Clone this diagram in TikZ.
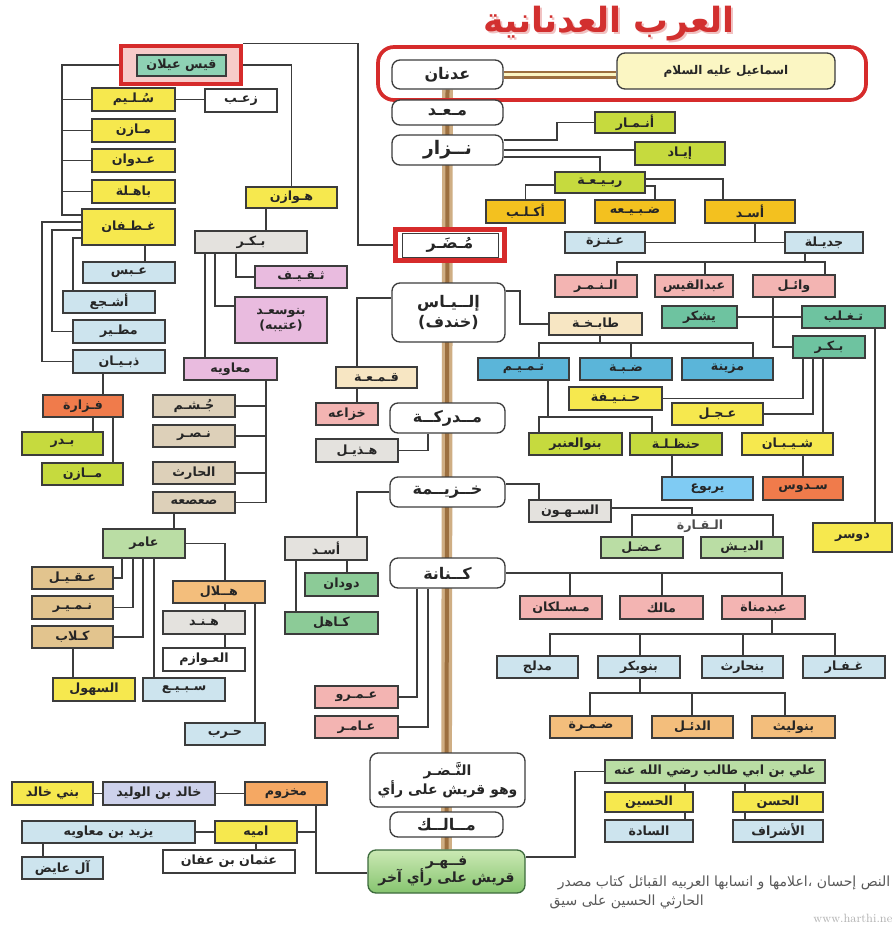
\documentclass[tikz,border=0pt]{standalone}
\usepackage{fontspec}
\newfontfamily\arabicfont[Script=Arabic]{DejaVu Sans}
\TeXXeTstate=1
\newcommand\AR[1]{\beginR #1\endR}
\pgfdeclarelayer{back}
\pgfdeclarelayer{bg}
\pgfsetlayers{back,bg,main}
\definecolor{yel}{HTML}{F6E84E}
\definecolor{lime}{HTML}{C6DA3E}
\definecolor{gold}{HTML}{F3C11F}
\definecolor{lblue}{HTML}{CDE4EE}
\definecolor{pinkr}{HTML}{F3B4B2}
\definecolor{teal}{HTML}{6EC3A0}
\definecolor{sky}{HTML}{5BB5D9}
\definecolor{yblue}{HTML}{7FCBF3}
\definecolor{orred}{HTML}{F07B4B}
\definecolor{beige}{HTML}{F7E6C3}
\definecolor{lgray}{HTML}{E4E2DE}
\definecolor{mauve}{HTML}{E9BBDF}
\definecolor{tan}{HTML}{DDD0B9}
\definecolor{lgreen}{HTML}{BADDA4}
\definecolor{mgreen}{HTML}{8CCB97}
\definecolor{peach}{HTML}{F5A863}
\definecolor{lav}{HTML}{CDD1EB}
\definecolor{cream}{HTML}{FBF6C3}
\definecolor{qgreen}{HTML}{8ED2B4}
\definecolor{ochre}{HTML}{E2C48E}
\definecolor{orange}{HTML}{F3BE7C}
\definecolor{linec}{HTML}{3C3C3C}
\definecolor{redc}{HTML}{D62B2B}
\definecolor{titlered}{HTML}{D2302F}
\definecolor{trunko}{HTML}{CFAE84}
\definecolor{trunki}{HTML}{9C6F3F}
\definecolor{fgreen1}{HTML}{CBE9B4}
\definecolor{fgreen2}{HTML}{86C46F}
\definecolor{fgreenb}{HTML}{3D6B3D}
\tikzset{
  bxs/.style={draw=linec, line width=1pt, inner sep=0pt, align=center,
    font=\arabicfont\bfseries\fontsize{9.5}{11}\selectfont, text=black!85},
  rbxs/.style={bxs, rounded corners=6pt, fill=white,
    font=\arabicfont\bfseries\fontsize{12}{15}\selectfont},
  ln/.style={draw=linec, line width=0.9pt},
  redframe/.style={draw=redc, line width=3.6pt},
  srcfont/.style={font=\arabicfont\fontsize{10.5}{12}\selectfont, text=black!65}
}
% box whose text is already wrapped in \beginR ... \endR
\newcommand\bxr[7]{\node[bxs,fill=#6,minimum width={((#4)-(#2))*0.75pt},minimum height={((#5)-(#3))*0.75pt}] (#1) at ({((#2)+(#4))/2},{((#3)+(#5))/2}) {#7};}
\newcommand\bx[7]{\bxr{#1}{#2}{#3}{#4}{#5}{#6}{\AR{#7}}}
\newcommand\rbx[7]{\node[rbxs,#6,minimum width={((#4)-(#2))*0.75pt},minimum height={((#5)-(#3))*0.75pt}] (#1) at ({((#2)+(#4))/2},{((#3)+(#5))/2}) {#7};}
\begin{document}
\begin{tikzpicture}[x=0.75pt,y=-0.75pt]
\useasboundingbox (0,0) rectangle (893,929);
\begin{pgfonlayer}{back}
\fill[white] (0,0) rectangle (893,929);
\end{pgfonlayer}
% title
\node[font=\arabicfont\bfseries\fontsize{26}{30}\selectfont, text=titlered!30] (titleshadow) at (611,26) {\beginR العرب العدنانية\endR};
\node[font=\arabicfont\bfseries\fontsize{26}{30}\selectfont, text=titlered] (title) at (609,24) {\beginR العرب العدنانية\endR};
% top frame
\node[redframe, line width=2.8pt, rounded corners=12pt, minimum width={488*0.75pt}, minimum height={53*0.75pt}] (topframe) at (622,73.5) {};
% central column
\rbx{adnan}{392}{60}{503}{89}{}{\AR{عدنان}}
\rbx{ismail}{617}{53}{835}{89}{fill=cream,font=\arabicfont\bfseries\fontsize{9}{11}\selectfont}{\beginR اسماعيل عليه السلام\endR}
\rbx{maad}{392}{100}{503}{125}{}{\AR{مـعـد}}
\rbx{nizar}{392}{135}{503}{165}{font=\arabicfont\bfseries\fontsize{14}{16}\selectfont}{\AR{نــزار}}
\node[redframe, fill=white, minimum width={109*0.75pt}, minimum height={31*0.75pt}] (mudarF) at (450,245) {};
\node[bxs, fill=white, line width=0.6pt, minimum width={96*0.75pt}, minimum height={24*0.75pt}, font=\arabicfont\bfseries\fontsize{12}{14}\selectfont] (mudar) at (450,245) {\AR{مُـضَـر}};
\rbx{ilyas}{392}{283}{505}{342}{}{\AR{إلــيـاس}\\\AR{(خندف)}}
\rbx{mudrika}{390}{403}{505}{433}{}{\AR{مــدركــة}}
\rbx{khuzayma}{390}{477}{505}{507}{}{\AR{خــزيــمة}}
\rbx{kinana}{390}{558}{505}{588}{}{\AR{كــنانة}}
\rbx{nadr}{370}{753}{525}{807}{font=\arabicfont\bfseries\fontsize{10.5}{14}\selectfont}{\AR{النَّـضـر}\\\beginR وهو قريش على رأي\endR}
\rbx{malik}{390}{812}{503}{837}{}{\AR{مــالــك}}
\rbx{fihr}{368}{850}{525}{893}{draw=fgreenb,top color=fgreen1,bottom color=fgreen2,font=\arabicfont\bfseries\fontsize{10.5}{13}\selectfont}{\AR{فــهـر}\\\beginR قريش على رأي آخر\endR}
% qays
\node[redframe, fill=pinkr!70, minimum width={120*0.75pt}, minimum height={38*0.75pt}] (qaysF) at (181,65) {};
\bxr{qays}{137}{55}{226}{76}{qgreen}{\beginR قيس عيلان\endR}
% left upper
\bx{sulaym}{92}{88}{175}{111}{yel}{سُـلـيم}
\bx{mazin}{92}{119}{175}{142}{yel}{مـازن}
\bx{adwan}{92}{149}{175}{172}{yel}{عـدوان}
\bx{bahila}{92}{180}{175}{203}{yel}{باهـلة}
\bx{ghatafan}{82}{209}{175}{245}{yel}{غـطـفان}
\bx{zaab}{205}{89}{277}{112}{white}{زعـب}
\bx{hawazin}{246}{187}{337}{208}{yel}{هـوازن}
\bx{abs}{83}{262}{175}{283}{lblue}{عـبس}
\bx{ashja}{63}{291}{155}{313}{lblue}{أشـجع}
\bx{mutayr}{73}{320}{165}{343}{lblue}{مطـير}
\bx{dhubyan}{73}{350}{165}{373}{lblue}{ذبـيـان}
\bx{fazara}{43}{395}{123}{417}{orred}{فـزارة}
\bx{badr}{22}{432}{103}{455}{lime}{بـدر}
\bx{mazin2}{42}{463}{123}{485}{lime}{مــازن}
\bx{bakr}{195}{231}{307}{253}{lgray}{بـكـر}
\bx{thaqif}{255}{266}{347}{288}{mauve}{ثـقـيـف}
\node[bxs, fill=mauve, minimum width={92*0.75pt}, minimum height={46*0.75pt}] (banusaad) at (281,320) {\AR{بنوسعـد}\\\AR{(عتيبه)}};
\bx{muawiya}{184}{358}{277}{380}{mauve}{معاويه}
\bx{jusham}{153}{395}{235}{417}{tan}{جُـشـم}
\bx{nasr}{153}{425}{235}{447}{tan}{نـصـر}
\bx{harith}{153}{462}{235}{484}{tan}{الحارث}
\bx{sasaa}{153}{492}{235}{513}{tan}{صعصعه}
\bx{amir}{103}{529}{185}{558}{lgreen}{عامر}
\bx{aqil}{32}{567}{113}{589}{ochre}{عـقـيـل}
\bx{numayr}{32}{596}{113}{619}{ochre}{نـمـيـر}
\bx{kilab}{32}{626}{113}{648}{ochre}{كـلاب}
\bx{suhul}{53}{678}{135}{701}{yel}{السهول}
\bx{subay}{143}{678}{225}{701}{lblue}{سـبـيـع}
\bx{hilal}{173}{581}{265}{603}{orange}{هــلال}
\bx{hind}{163}{611}{245}{634}{lgray}{هـنـد}
\bx{awazim}{163}{648}{245}{671}{white}{العـوازم}
\bx{harb}{185}{723}{265}{745}{lblue}{حـرب}
% center left
\bx{qamaa}{336}{367}{417}{388}{beige}{قـمـعـة}
\bx{khuzaa}{316}{403}{378}{425}{pinkr}{خزاعه}
\bx{hudhayl}{316}{439}{398}{462}{lgray}{هـذيـل}
\bx{asadL}{285}{537}{367}{560}{lgray}{أسـد}
\bx{dudan}{305}{573}{378}{596}{mgreen}{دودان}
\bx{kahil}{285}{612}{378}{634}{mgreen}{كـاهل}
\bx{amr}{315}{686}{398}{708}{pinkr}{عـمـرو}
\bx{amir2}{315}{716}{398}{738}{pinkr}{عـامـر}
% bottom left
\bx{makhzum}{245}{782}{327}{805}{peach}{مخزوم}
\bxr{khalid}{103}{782}{215}{805}{lav}{\beginR خالد بن الوليد\endR}
\bxr{banikhalid}{12}{782}{93}{805}{yel}{\beginR بني خالد\endR}
\bx{umayya}{215}{821}{297}{843}{yel}{اميه}
\bxr{yazid}{22}{821}{195}{843}{lblue}{\beginR يزيد بن معاويه\endR}
\bxr{uthman}{163}{850}{295}{873}{white}{\beginR عثمان بن عفان\endR}
\bxr{aliad}{22}{857}{103}{879}{lblue}{\beginR آل عايض\endR}
% right
\bx{anmar}{595}{112}{675}{133}{lime}{أنـمـار}
\bx{iyad}{635}{142}{725}{165}{lime}{إيـاد}
\bx{rabia}{555}{172}{645}{193}{lime}{ربـيـعـة}
\bx{akalb}{486}{200}{565}{223}{gold}{أكـلـب}
\bx{dubayaa}{595}{200}{675}{223}{gold}{ضـبـيـعه}
\bx{asadR}{705}{200}{795}{223}{gold}{أسـد}
\bx{anaza}{565}{232}{645}{253}{lblue}{عـنـزة}
\bx{jadila}{785}{232}{863}{253}{lblue}{جديـلة}
\bx{namir}{555}{275}{637}{297}{pinkr}{الـنـمـر}
\bx{abdqays}{655}{275}{733}{297}{pinkr}{عبدالقيس}
\bx{wail}{753}{275}{835}{297}{pinkr}{وائـل}
\bx{yashkur}{662}{306}{737}{328}{teal}{يشكر}
\bx{taghlib}{802}{306}{885}{328}{teal}{تـغـلب}
\bx{bakrR}{793}{336}{865}{358}{teal}{بـكـر}
\bx{tabikha}{549}{313}{642}{335}{beige}{طابـخـة}
\bx{tamim}{478}{358}{569}{380}{sky}{تـمـيـم}
\bx{dabba}{580}{358}{672}{380}{sky}{ضـبـة}
\bx{muzayna}{682}{358}{773}{380}{sky}{مزينة}
\bx{hanifa}{569}{387}{662}{410}{yel}{حـنـيـفة}
\bx{ijl}{672}{403}{763}{425}{yel}{عـجـل}
\bx{anbar}{529}{433}{622}{455}{lime}{بنوالعنبر}
\bx{hanzala}{630}{433}{722}{455}{lime}{حنظـلـة}
\bx{shayban}{742}{433}{833}{455}{yel}{شـيـبـان}
\bx{yarbu}{662}{477}{753}{500}{yblue}{يربوع}
\bx{sadus}{763}{477}{843}{500}{orred}{سـدوس}
\bx{dawsar}{813}{523}{892}{552}{yel}{دوسر}
\bx{suhun}{529}{500}{611}{522}{lgray}{السـهـون}
\node[font=\arabicfont\bfseries\fontsize{9.5}{11}\selectfont, text=black!70] (qara) at (700,526) {\AR{الـقـارة}};
\bx{adal}{601}{537}{683}{558}{lgreen}{عـضـل}
\bx{daysh}{701}{537}{783}{558}{lgreen}{الديـش}
\bx{maslakan}{520}{596}{602}{619}{pinkr}{مـسـلكان}
\bx{malikK}{620}{596}{703}{619}{pinkr}{مالك}
\bx{abdmanat}{722}{596}{805}{619}{pinkr}{عبدمناة}
\bx{mudlij}{497}{656}{578}{678}{lblue}{مدلج}
\bx{banubakr}{598}{656}{680}{678}{lblue}{بنوبكر}
\bx{banuharith}{702}{656}{783}{678}{lblue}{بنحارث}
\bx{ghifar}{803}{656}{885}{678}{lblue}{غـفـار}
\bx{damra}{550}{716}{632}{738}{orange}{ضـمـرة}
\bx{duil}{652}{716}{733}{738}{orange}{الدئـل}
\bx{banulayth}{752}{716}{835}{738}{orange}{بنوليث}
\bxr{ali}{605}{760}{825}{783}{lgreen}{\beginR علي بن ابي طالب رضي الله عنه\endR}
\bx{husayn}{605}{792}{693}{812}{yel}{الحسين}
\bx{hasan}{733}{792}{823}{812}{yel}{الحسن}
\bx{sada}{605}{820}{693}{842}{lblue}{السادة}
\bx{ashraf}{733}{820}{823}{842}{lblue}{الأشراف}
% source
\node[anchor=east, srcfont] (src1) at (895,883) {\beginR النص إحسان ،اعلامها و انسابها العربيه القبائل كتاب مصدر\endR};
\node[anchor=west, srcfont] (src2) at (545,902) {\beginR الحارثي الحسين على سيق\endR};
\node[anchor=east, font=\fontsize{9}{10}\selectfont, text=black!30] (src3) at (897,918) {www.harthi.ne};
% connectors
\begin{pgfonlayer}{bg}
\draw[line width=8pt, trunko] (adnan.south) -- (fihr.north);
\draw[line width=3pt, trunki] (adnan.south) -- (fihr.north);
\draw[line width=6pt, trunki] (adnan.east) -- (adnan.east -| ismail.west);
\draw[line width=2pt, cream] (adnan.east) -- (adnan.east -| ismail.west);
% qays
\draw[ln] (qaysF.east) -| (hawazin.north);
\draw[ln] (qaysF.north east) -- (qaysF.north east -| 358,0) |- (mudarF.west);
\draw[ln] (qaysF.west) -| (62,215) -- (ghatafan.west |- 0,215);
\foreach \n in {sulaym,mazin,adwan,bahila} \draw[ln] (\n.west) -- (\n.west -| 62,0);
\draw[ln] (sulaym.east) -- (sulaym.east -| zaab.west);
\draw[ln] (ghatafan.south -| 145,0) -- (abs.north -| 145,0);
\draw[ln] (ghatafan.west |- 0,238) -| (ashja.north -| 73,0);
\draw[ln] (ghatafan.west |- 0,230) -| (52,331.5) -- (mutayr.west);
\draw[ln] (ghatafan.west |- 0,222) -| (42,361.5) -- (dhubyan.west);
\draw[ln] (dhubyan.south -| 103,0) -- (fazara.north -| 103,0);
\draw[ln] (fazara.south -| 93,0) -- (badr.north -| 93,0);
\draw[ln] (fazara.south -| 113,0) -- (mazin2.north -| 113,0);
% hawazin
\draw[ln] (hawazin.south -| 266,0) -- (bakr.north -| 266,0);
\draw[ln] (bakr.south -| 236,0) |- (thaqif.west);
\draw[ln] (bakr.south -| 215,0) |- (banusaad.west |- 0,306);
\draw[ln] (bakr.south -| 205,0) -- (muawiya.north -| 205,0);
\draw[ln] (muawiya.south -| 266,0) |- (sasaa.east);
\foreach \n in {jusham,nasr,harith} \draw[ln] (\n.east) -- (\n.east -| 266,0);
\draw[ln] (sasaa.south -| 174,0) -- (amir.north -| 174,0);
\draw[ln] (amir.south -| 122,0) |- (aqil.east);
\draw[ln] (amir.south -| 133,0) |- (numayr.east);
\draw[ln] (amir.south -| 143,0) |- (kilab.east);
\draw[ln] (amir.south -| 154,0) -- (subay.north -| 154,0);
\draw[ln] (amir.east) -| (hilal.north -| 225,0);
\draw[ln] (kilab.south -| 73,0) -- (suhul.north -| 73,0);
\draw[ln] (hilal.south -| 225,0) -- (awazim.north -| 225,0);
\draw[ln] (hilal.south -| 255,0) -- (harb.north -| 255,0);
% center left
\draw[ln] (ilyas.west |- 0,298) -| (khuzaa.north -| 357,0);
\draw[ln] (mudrika.south -| 428,0) |- (hudhayl.east);
\draw[ln] (khuzayma.west) -| (asadL.north -| 357,0);
\draw[ln] (asadL.south -| 347,0) -- (dudan.north -| 347,0);
\draw[ln] (asadL.south -| 296,0) -- (kahil.north -| 296,0);
\draw[ln] (kinana.south -| 417,0) |- (amr.east);
\draw[ln] (kinana.south -| 428,0) |- (amir2.east);
% right
\draw[ln] (nizar.east |- 0,140) -- (557,140) |- (anmar.west);
\draw[ln] (nizar.east |- 0,150) -- (iyad.west |- 0,150);
\draw[ln] (nizar.east |- 0,157) -| (rabia.north);
\draw[ln] (rabia.west |- 0,185) -| (akalb.north);
\draw[ln] (rabia.east |- 0,186) -| (dubayaa.north -| 655,0);
\draw[ln] (rabia.east |- 0,179) -| (asadR.north -| 723,0);
\draw[ln] (anaza.east) -- (jadila.west);
\draw[ln] (asadR.south -| 755,0) -- (anaza.east -| 755,0);
\draw[ln] (jadila.south -| 805,0) -- (805,262);
\draw[ln] (namir.north -| 617,0) -- (617,262) -- (825,262) -- (wail.north -| 825,0);
\draw[ln] (abdqays.north -| 705,0) -- (705,262);
\draw[ln] (wail.south -| 773,0) |- (bakrR.west);
\draw[ln] (yashkur.east) -- (taghlib.west);
\draw[ln] (taghlib.south -| 875,0) -- (dawsar.north -| 875,0);
\draw[ln] (bakrR.south -| 803,0) |- (hanifa.east);
\draw[ln] (bakrR.south -| 813,0) |- (ijl.east);
\draw[ln] (bakrR.south -| 823,0) -- (shayban.north -| 823,0);
\draw[ln] (shayban.south -| 803,0) -- (sadus.north -| 803,0);
\draw[ln] (ilyas.east |- 0,291) -- (520,291) |- (tabikha.west);
\draw[ln] (tabikha.south -| 600,0) -- (600,343);
\draw[ln] (tamim.north -| 539,0) -- (539,343) -- (753,343) -- (muzayna.north -| 753,0);
\draw[ln] (dabba.north -| 631,0) -- (631,343);
\draw[ln] (tamim.south -| 548,0) -- (548,417);
\draw[ln] (anbar.north -| 539,0) -- (539,417) -- (652,417) -- (hanzala.north -| 652,0);
\draw[ln] (hanzala.south -| 672,0) -- (yarbu.north -| 672,0);
\draw[ln] (khuzayma.east |- 0,484) -| (suhun.north -| 539,0);
\draw[ln] (suhun.east |- 0,508) -| (692,515);
\draw[ln] (adal.north -| 632,0) -- (632,515) -- (773,515) -- (daysh.north -| 773,0);
\draw[ln] (kinana.east |- 0,573) -| (abdmanat.north -| 782,0);
\draw[ln] (maslakan.north -| 570,0) -- (570,573);
\draw[ln] (malikK.north -| 662,0) -- (662,573);
\draw[ln] (abdmanat.south -| 772,0) -- (772,634);
\draw[ln] (mudlij.north -| 550,0) -- (550,634) -- (835,634) -- (ghifar.north -| 835,0);
\draw[ln] (banubakr.north -| 640,0) -- (640,634);
\draw[ln] (banuharith.north -| 743,0) -- (743,634);
\draw[ln] (banubakr.south -| 640,0) -- (640,693);
\draw[ln] (damra.north -| 590,0) -- (590,693) -- (785,693) -- (banulayth.north -| 785,0);
\draw[ln] (duil.north -| 692,0) -- (692,693);
% bottom
\draw[ln] (fihr.east |- 0,857) -- (575,857) |- (ali.west);
\draw[ln] (ali.south -| 685,0) -- (sada.north -| 685,0);
\draw[ln] (ali.south -| 745,0) -- (ashraf.north -| 745,0);
\draw[ln] (fihr.west |- 0,873) -| (makhzum.south -| 316,0);
\draw[ln] (umayya.east) -- (umayya.east -| 316,0);
\draw[ln] (makhzum.west) -- (khalid.east);
\draw[ln] (khalid.west) -- (banikhalid.east);
\draw[ln] (umayya.west) -- (yazid.east);
\draw[ln] (umayya.south -| 256,0) -- (uthman.north -| 256,0);
\draw[ln] (yazid.south -| 43,0) -- (aliad.north -| 43,0);
\end{pgfonlayer}
\end{tikzpicture}
\end{document}
